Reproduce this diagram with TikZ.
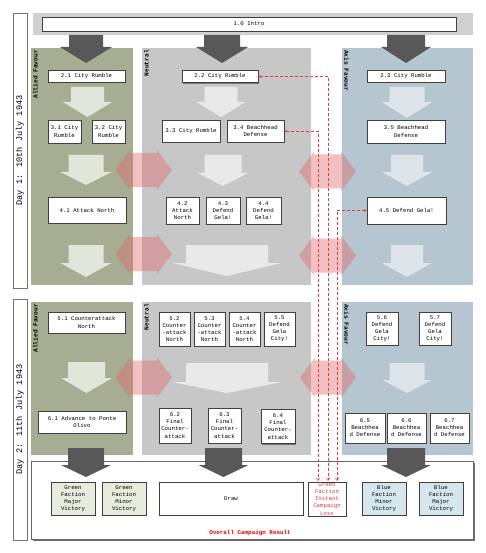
\documentclass[tikz,border=0pt]{standalone}
\usepackage{fontspec}
\setmainfont{Liberation Mono}
\usetikzlibrary{shadows,arrows.meta}
\definecolor{alliedc}{RGB}{166,173,147}
\definecolor{neutralc}{RGB}{199,199,199}
\definecolor{axisc}{RGB}{181,198,208}
\definecolor{introc}{RGB}{208,208,208}
\definecolor{darkarr}{RGB}{88,88,88}
\definecolor{lightA}{RGB}{226,229,217}
\definecolor{lightN}{RGB}{233,233,233}
\definecolor{lightX}{RGB}{222,229,233}
\definecolor{redarr}{RGB}{225,105,105}
\definecolor{dashred}{RGB}{225,60,60}
\definecolor{greenres}{RGB}{232,236,220}
\definecolor{blueres}{RGB}{214,230,238}
\newcommand\bxf{\fontsize{5.7}{7.1}\selectfont}
\newcommand\blockarrow[7]{\fill[#7] ({#1-#2},#4) -- ({#1+#2},#4) -- ({#1+#2},#5) -- ({#1+#3},#5) -- (#1,#6) -- ({#1-#3},#5) -- ({#1-#2},#5) -- cycle;}
\newcommand\dblarrow[3]{\fill[redarr,opacity=.42] (#1,#3) -- ({#1+15},{#3-20}) -- ({#1+15},{#3-17}) -- ({#2-15},{#3-17}) -- ({#2-15},{#3-20}) -- (#2,#3) -- ({#2-15},{#3+20}) -- ({#2-15},{#3+17}) -- ({#1+15},{#3+17}) -- ({#1+15},{#3+20}) -- cycle;}
\begin{document}
\begin{tikzpicture}[x=1pt,y=-1pt,
  box/.style={draw=black!75, fill=white, align=center, inner sep=1pt, font=\bxf, line width=0.4pt,
    drop shadow={shadow xshift=1.2pt,shadow yshift=-1.2pt,fill=black!65,opacity=.75}},
  plab/.style={font=\fontsize{6.2}{7}\selectfont\bfseries, inner sep=1pt},
  daybox/.style={draw=black!55, fill=white, line width=0.4pt, rotate=90, minimum height=14pt, inner sep=0pt, font=\fontsize{8.6}{9}\selectfont},
  dl/.style={draw=dashred, line width=0.5pt, dash pattern=on 3pt off 2pt, {Stealth[length=2.5pt,width=2.5pt]}-{Straight Barb[length=2.5pt,width=3.5pt]}}
]
\useasboundingbox (0,0) rectangle (486,553);
\fill[white] (0,0) rectangle (486,553);
% day labels
\node[daybox, minimum width=275pt] (day1) at (20,150.5) {Day 1: 10th July 1943};
\node[daybox, minimum width=241pt] (day2) at (20,419.5) {Day 2: 11th July 1943};
% intro band
\fill[introc] (33,13) rectangle (473,35);
% panels day 1
\fill[alliedc] (31,48) rectangle (133,285);
\fill[neutralc] (142,48) rectangle (311,285);
\fill[axisc] (342,48) rectangle (473,285);
% panels day 2
\fill[alliedc] (31,302) rectangle (133,455);
\fill[neutralc] (142,302) rectangle (311,455);
\fill[axisc] (342,302) rectangle (473,455);
% panel labels
\node[plab, rotate=90, anchor=north east] (la1) at (32,49) {Allied Favour};
\node[plab, rotate=90, anchor=north east] (ln1) at (143,49) {Neutral};
\node[plab, rotate=-90, anchor=south west] (lx1) at (343,49) {Axis Favour};
\node[plab, rotate=90, anchor=north east] (la2) at (32,303) {Allied Favour};
\node[plab, rotate=90, anchor=north east] (ln2) at (143,303) {Neutral};
\node[plab, rotate=-90, anchor=south west] (lx2) at (343,303) {Axis Favour};
% result box
\node[draw=black!60, fill=white, line width=0.4pt, minimum width=442pt, minimum height=78pt, inner sep=0pt,
  drop shadow={shadow xshift=1.5pt,shadow yshift=-1.5pt,fill=black!70,opacity=.8}] (res) at (252,500) {};
\node[font=\fontsize{5.9}{7}\selectfont\bfseries, text=red!90!black, inner sep=0pt] (reslab) at (250,533) {Overall Campaign Result};
% dark arrows
\blockarrow{86}{17}{26}{35}{47}{63}{darkarr}
\blockarrow{222}{18}{26}{35}{47}{63}{darkarr}
\blockarrow{406}{19}{25}{35}{47}{63}{darkarr}
\blockarrow{86}{18}{25}{448}{465}{477}{darkarr}
\blockarrow{223.5}{18.5}{25}{448}{465}{477}{darkarr}
\blockarrow{406}{19}{25}{448}{465}{477}{darkarr}
% light arrows day 1
\blockarrow{87.5}{16.5}{24.5}{87}{102}{117}{lightA}
\blockarrow{221}{16.5}{24.5}{87}{102}{117}{lightN}
\blockarrow{407}{17.5}{25}{87}{102}{118}{lightX}
\blockarrow{86}{17.5}{25.5}{155}{172}{185}{lightA}
\blockarrow{223}{18.5}{25}{155}{173}{186}{lightN}
\blockarrow{407}{16}{25}{155}{172}{186}{lightX}
\blockarrow{86}{17.5}{25.5}{245}{263}{277}{lightA}
\blockarrow{227}{41}{54.5}{245}{263}{276}{lightN}
\blockarrow{407}{16}{25}{245}{263}{277}{lightX}
% light arrows day 2
\blockarrow{86.5}{18.5}{25.5}{362}{378}{393}{lightA}
\blockarrow{227}{41}{55}{363}{382}{393}{lightN}
\blockarrow{407}{17.5}{24.5}{363}{380}{393}{lightX}
% red double arrows
\dblarrow{115}{172}{170}
\dblarrow{299}{356}{171.5}
\dblarrow{115}{172}{254}
\dblarrow{299}{356}{255.5}
\dblarrow{115}{172}{377.5}
\dblarrow{300}{356}{377.5}
% intro
\node[box, minimum width=414pt, minimum height=14pt] (intro) at (249,24) {1.0 Intro};
% day 1 boxes
\node[box, minimum width=77pt, minimum height=12pt] (b21) at (86.5,76) {2.1 City Rumble};
\node[box, minimum width=76pt, minimum height=12pt] (b22) at (220,76.5) {2.2 City Rumble};
\node[box, minimum width=78pt, minimum height=12pt] (b23) at (406,76) {2.3 City Rumble};
\node[box, minimum width=33pt, minimum height=23pt] (b31) at (64.5,131.5) {3.1 City\\Rumble};
\node[box, minimum width=33pt, minimum height=23pt] (b32) at (108.5,131.5) {3.2 City\\Rumble};
\node[box, minimum width=58pt, minimum height=22pt] (b33) at (191,131) {3.3 City Rumble};
\node[box, minimum width=57pt, minimum height=22pt] (b34) at (255.5,131) {3.4 Beachhead\\Defense};
\node[box, minimum width=78pt, minimum height=23pt] (b35) at (406,131.5) {3.5 Beachhead\\Defense};
\node[box, minimum width=78pt, minimum height=26pt] (b41) at (87,210) {4.1 Attack North};
\node[box, minimum width=33pt, minimum height=27pt] (b42) at (182.5,210.5) {4.2\\Attack\\North};
\node[box, minimum width=34pt, minimum height=27pt] (b43) at (223,210.5) {4.3\\Defend\\Gela!};
\node[box, minimum width=35pt, minimum height=27pt] (b44) at (263.5,210.5) {4.4\\Defend\\Gela!};
\node[box, minimum width=79pt, minimum height=27pt] (b45) at (406.5,210.5) {4.5 Defend Gela!};
% day 2 boxes
\node[box, minimum width=77pt, minimum height=21pt] (b51) at (86.5,322.5) {5.1 Counterattack\\North};
\node[box, minimum width=31pt, minimum height=34pt] (b52) at (174.5,329) {5.2\\Counter\\-attack\\North};
\node[box, minimum width=31pt, minimum height=34pt] (b53) at (209.5,329) {5.3\\Counter\\-attack\\North};
\node[box, minimum width=31pt, minimum height=34pt] (b54) at (244.5,329) {5.4\\Counter\\-attack\\North};
\node[box, minimum width=31pt, minimum height=34pt] (b55) at (279.5,329) {5.5\\Defend\\Gela\\City!};
\node[box, minimum width=32pt, minimum height=33pt] (b56) at (382,328.5) {5.6\\Defend\\Gela\\City!};
\node[box, minimum width=32pt, minimum height=33pt] (b57) at (435,328.5) {5.7\\Defend\\Gela\\City!};
\node[box, minimum width=88pt, minimum height=22pt] (b61) at (82,422) {6.1 Advance to Ponte\\Olivo};
\node[box, minimum width=32pt, minimum height=35pt] (b62) at (175,425.5) {6.2\\Final\\Counter-\\attack};
\node[box, minimum width=33pt, minimum height=35pt] (b63) at (224.5,425.5) {6.3\\Final\\Counter-\\attack};
\node[box, minimum width=34pt, minimum height=34pt] (b64) at (278,426.5) {6.4\\Final\\Counter-\\attack};
\node[box, minimum width=40pt, minimum height=30pt] (b65) at (365,428) {6.5\\Beachhea\\d Defense};
\node[box, minimum width=39pt, minimum height=30pt] (b66) at (406.5,428) {6.6\\Beachhea\\d Defense};
\node[box, minimum width=39pt, minimum height=30pt] (b67) at (449.5,428) {6.7\\Beachhea\\d Defense};
% results
\node[box, fill=greenres, minimum width=44pt, minimum height=33pt] (r1) at (73,498.5) {Green\\Faction\\Major\\Victory};
\node[box, fill=greenres, minimum width=44pt, minimum height=33pt] (r2) at (124,498.5) {Green\\Faction\\Minor\\Victory};
\node[box, minimum width=144pt, minimum height=33pt] (rdraw) at (231,498.5) {Draw};
\node[box, minimum width=38pt, minimum height=34pt, text=dashred] (loss) at (327,499) {Green\\Faction\\Instant\\Campaign\\Loss};
\node[box, fill=blueres, minimum width=44pt, minimum height=33pt] (r5) at (384,498.5) {Blue\\Faction\\Minor\\Victory};
\node[box, fill=blueres, minimum width=44pt, minimum height=33pt] (r6) at (441,498.5) {Blue\\Faction\\Major\\Victory};
% dashed connectors
\coordinate (d1) at (328,481);
\coordinate (d2) at (318,481);
\coordinate (d3) at (337,481);
\draw[dl] (b22.east) -| (d1);
\draw[dl] (b34.east) -| (d2);
\draw[dl] (b45.west) -| (d3);
\end{tikzpicture}
\end{document}
